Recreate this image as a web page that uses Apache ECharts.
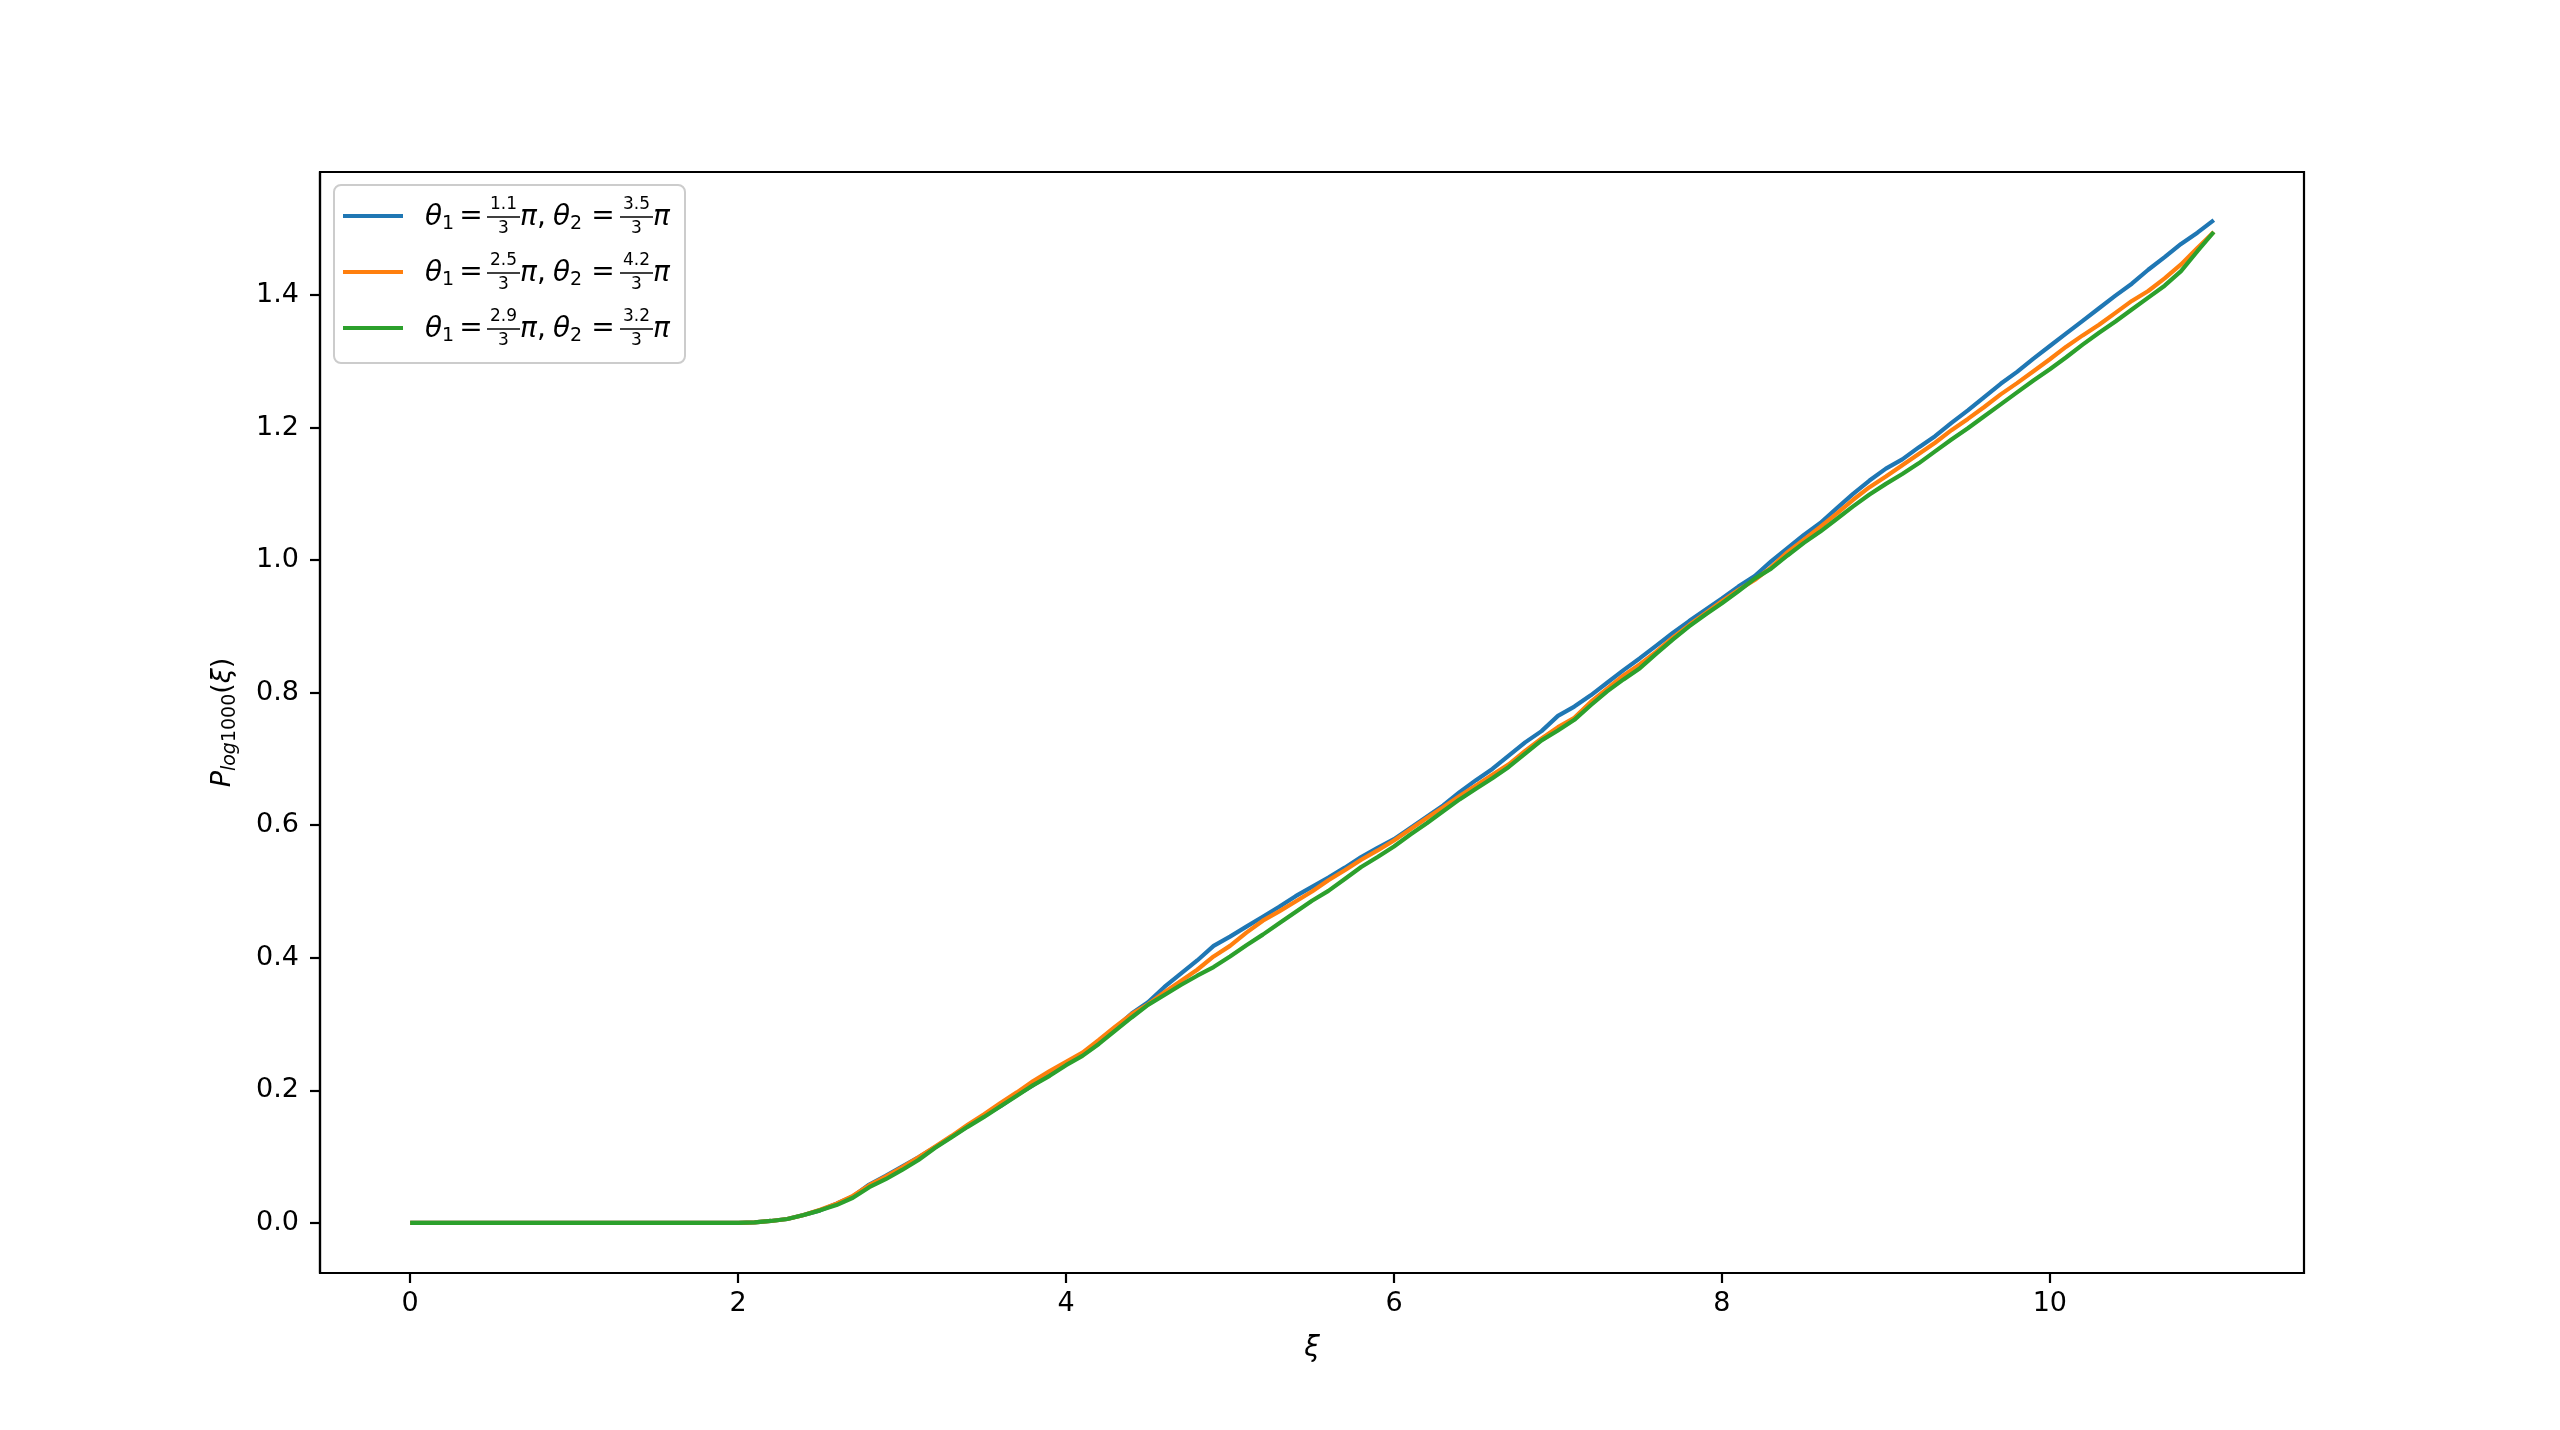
<!DOCTYPE html>
<html>
<head>
<meta charset="utf-8">
<script src="https://cdn.jsdelivr.net/npm/echarts@6/dist/echarts.min.js"></script>
<style>
html, body { margin: 0; padding: 0; background: #fff; }
#chart { width: 2560px; height: 1430px; }
</style>
</head>
<body>
<div id="chart"></div>
<script>
var xs = [
  0.0, 0.1, 0.2, 0.3, 0.4, 0.5, 0.6, 0.7, 0.8, 0.9,
  1.0, 1.1, 1.2, 1.3, 1.4, 1.5, 1.6, 1.7, 1.8, 1.9,
  2.0, 2.1, 2.2, 2.3, 2.4, 2.5, 2.6, 2.7, 2.8, 2.9,
  3.0, 3.1, 3.2, 3.3, 3.4, 3.5, 3.6, 3.7, 3.8, 3.9,
  4.0, 4.1, 4.2, 4.3, 4.4, 4.5, 4.6, 4.7, 4.8, 4.9,
  5.0, 5.1, 5.2, 5.3, 5.4, 5.5, 5.6, 5.7, 5.8, 5.9,
  6.0, 6.1, 6.2, 6.3, 6.4, 6.5, 6.6, 6.7, 6.8, 6.9,
  7.0, 7.1, 7.2, 7.3, 7.4, 7.5, 7.6, 7.7, 7.8, 7.9,
  8.0, 8.1, 8.2, 8.3, 8.4, 8.5, 8.6, 8.7, 8.8, 8.9,
  9.0, 9.1, 9.2, 9.3, 9.4, 9.5, 9.6, 9.7, 9.8, 9.9,
  10.0, 10.1, 10.2, 10.3, 10.4, 10.5, 10.6, 10.7, 10.8, 10.9,
  11.0
];

var blue = [
  0, 0, 0, 0, 0, 0, 0, 0, 0, 0,
  0, 0, 0, 0, 0, 0, 0, 0, 0, 0,
  0, 0.001, 0.003, 0.006, 0.012, 0.019, 0.029, 0.040, 0.058, 0.071,
  0.085, 0.099, 0.114, 0.130, 0.146, 0.162, 0.176, 0.193, 0.208, 0.224,
  0.239, 0.254, 0.273, 0.294, 0.316, 0.333, 0.356, 0.376, 0.396, 0.418,
  0.432, 0.447, 0.462, 0.477, 0.493, 0.507, 0.521, 0.536, 0.552, 0.566,
  0.579, 0.596, 0.613, 0.630, 0.650, 0.668, 0.685, 0.705, 0.725, 0.742,
  0.765, 0.779, 0.796, 0.815, 0.834, 0.852, 0.871, 0.890, 0.908, 0.925,
  0.942, 0.960, 0.976, 0.998, 1.018, 1.038, 1.056, 1.078, 1.100, 1.120,
  1.138, 1.152, 1.170, 1.187, 1.207, 1.226, 1.246, 1.266, 1.284, 1.304,
  1.323, 1.342, 1.361, 1.380, 1.399, 1.417, 1.438, 1.457, 1.477, 1.494,
  1.513
];

var orange = [
  0, 0, 0, 0, 0, 0, 0, 0, 0, 0,
  0, 0, 0, 0, 0, 0, 0, 0, 0, 0,
  0, 0.001, 0.003, 0.006, 0.012, 0.020, 0.029, 0.041, 0.057, 0.070,
  0.084, 0.099, 0.115, 0.131, 0.148, 0.164, 0.181, 0.197, 0.214, 0.229,
  0.243, 0.257, 0.276, 0.296, 0.315, 0.330, 0.348, 0.365, 0.382, 0.402,
  0.418, 0.438, 0.456, 0.470, 0.485, 0.500, 0.517, 0.532, 0.548, 0.562,
  0.577, 0.594, 0.611, 0.627, 0.644, 0.660, 0.676, 0.692, 0.712, 0.731,
  0.748, 0.762, 0.786, 0.806, 0.826, 0.843, 0.862, 0.883, 0.902, 0.920,
  0.938, 0.955, 0.970, 0.989, 1.012, 1.031, 1.050, 1.070, 1.091, 1.110,
  1.126, 1.143, 1.160, 1.177, 1.196, 1.213, 1.231, 1.250, 1.267, 1.285,
  1.303, 1.322, 1.339, 1.355, 1.373, 1.391, 1.406, 1.425, 1.446, 1.471,
  1.495
];

var green = [
  0, 0, 0, 0, 0, 0, 0, 0, 0, 0,
  0, 0, 0, 0, 0, 0, 0, 0, 0, 0,
  0, 0.001, 0.003, 0.006, 0.012, 0.019, 0.027, 0.038, 0.054, 0.066,
  0.080, 0.095, 0.113, 0.129, 0.145, 0.160, 0.176, 0.192, 0.208, 0.222,
  0.238, 0.252, 0.270, 0.290, 0.310, 0.329, 0.344, 0.359, 0.373, 0.386,
  0.402, 0.419, 0.435, 0.452, 0.469, 0.486, 0.501, 0.519, 0.537, 0.552,
  0.568, 0.586, 0.603, 0.621, 0.639, 0.655, 0.671, 0.688, 0.708, 0.728,
  0.743, 0.759, 0.781, 0.802, 0.820, 0.837, 0.859, 0.880, 0.900, 0.918,
  0.935, 0.953, 0.972, 0.987, 1.007, 1.026, 1.043, 1.062, 1.081, 1.099,
  1.115, 1.130, 1.146, 1.164, 1.182, 1.199, 1.217, 1.235, 1.253, 1.271,
  1.288, 1.306, 1.325, 1.343, 1.360, 1.378, 1.396, 1.414, 1.436, 1.466,
  1.495
];

var xTicks = [0, 2, 4, 6, 8, 10];
var yTicks = [0, 0.2, 0.4, 0.6, 0.8, 1.0, 1.2, 1.4];
var colors = ['#1f77b4', '#ff7f0e', '#2ca02c'];
var theta1Num = ['1.1', '2.5', '2.9'];
var theta2Num = ['3.5', '4.2', '3.2'];
var fracDen = '3';

var FONT = 'DejaVu Sans';
var X_MIN = -0.55, X_MAX = 11.55, Y_MIN = -0.0755, Y_MAX = 1.5855;
var TICK_LEN = 10;

function pair(ys) {
    return xs.map(function (x, i) { return [x, ys[i]]; });
}

// hand-built legend (matplotlib style, with stacked fractions)
function legendGraphic() {
    var els = [{
        type: 'rect',
        shape: { x: 334, y: 185, width: 351, height: 178, r: 7 },
        style: { fill: 'rgba(255,255,255,0.8)', stroke: '#cccccc', lineWidth: 2 },
        z: 100
    }];
    function txt(x, y, s, size, italic, align) {
        els.push({
            type: 'text', x: x, y: y, z: 101,
            style: {
                text: s,
                font: (italic ? 'italic ' : '') + size + 'px "' + FONT + '"',
                fill: '#000',
                align: align || 'left', textAlign: align || 'left',
                verticalAlign: 'middle', textVerticalAlign: 'middle'
            }
        });
    }
    function frac(cx, cy, num) {
        txt(cx, cy - 11, num, 17, false, 'center');
        txt(cx, cy + 13, fracDen, 17, false, 'center');
        els.push({
            type: 'line', z: 101,
            shape: { x1: cx - 16.5, y1: cy + 1, x2: cx + 16.5, y2: cy + 1 },
            style: { stroke: '#000', lineWidth: 1.4 }
        });
    }
    for (var i = 0; i < 3; i++) {
        var cy = 216 + 56 * i;
        els.push({
            type: 'line', z: 101,
            shape: { x1: 343, y1: cy, x2: 403, y2: cy },
            style: { stroke: colors[i], lineWidth: 4.2 }
        });
        txt(425, cy + 2, 'θ', 28, true);
        txt(442, cy + 8, '1', 19, false);
        txt(471, cy + 1, '=', 28, false, 'center');
        frac(503.5, cy, theta1Num[i]);
        txt(520, cy + 2, 'π', 28, true);
        txt(537, cy + 2, ',', 28, false);
        txt(553, cy + 2, 'θ', 28, true);
        txt(570, cy + 8, '2', 19, false);
        txt(603, cy + 1, '=', 28, false, 'center');
        frac(636.5, cy, theta2Num[i]);
        txt(653, cy + 2, 'π', 28, true);
    }
    return els;
}

var myChart = echarts.init(document.getElementById('chart'));

myChart.setOption({
    animation: false,
    grid: {
        left: 320, right: 256, top: 172, bottom: 157,
        show: true, borderColor: '#000', borderWidth: 2.2
    },
    xAxis: {
        type: 'value',
        min: X_MIN, max: X_MAX,
        name: 'ξ',
        nameLocation: 'middle',
        nameGap: 62,
        nameTextStyle: { fontFamily: FONT, fontStyle: 'italic', fontSize: 28, color: '#000' },
        axisLine: { show: true, onZero: false, lineStyle: { color: '#000', width: 2.2 } },
        axisTick: { show: true, length: TICK_LEN, lineStyle: { color: '#000', width: 2.2 }, customValues: xTicks },
        axisLabel: { fontFamily: FONT, fontSize: 27, color: '#000', margin: 17, customValues: xTicks,
            formatter: function (v) { return String(v); } },
        splitLine: { show: false }
    },
    yAxis: {
        type: 'value',
        min: Y_MIN, max: Y_MAX,
        name: '{p|P}{s|log}{n|1000}{b|(}{p|ξ}{b|)}',
        nameLocation: 'middle',
        nameGap: 80,
        nameRotate: 90,
        nameTextStyle: {
            color: '#000',
            rich: {
                p: { fontFamily: FONT, fontStyle: 'italic', fontSize: 27, lineHeight: 34, color: '#000' },
                b: { fontFamily: FONT, fontSize: 27, lineHeight: 34, color: '#000' },
                s: { fontFamily: FONT, fontStyle: 'italic', fontSize: 19, lineHeight: 18, verticalAlign: 'bottom', color: '#000' },
                n: { fontFamily: FONT, fontSize: 19, lineHeight: 18, verticalAlign: 'bottom', color: '#000' }
            }
        },
        axisLine: { show: true, onZero: false, lineStyle: { color: '#000', width: 2.2 } },
        axisTick: { show: true, length: TICK_LEN, lineStyle: { color: '#000', width: 2.2 }, customValues: yTicks },
        axisLabel: { fontFamily: FONT, fontSize: 27, color: '#000', margin: 21, customValues: yTicks,
            formatter: function (v) { return v.toFixed(1); } },
        splitLine: { show: false }
    },
    series: [
        { name: 'blue', type: 'line', data: pair(blue), showSymbol: false, silent: true,
          lineStyle: { color: colors[0], width: 4.2 }, itemStyle: { color: colors[0] } },
        { name: 'orange', type: 'line', data: pair(orange), showSymbol: false, silent: true,
          lineStyle: { color: colors[1], width: 4.2 }, itemStyle: { color: colors[1] } },
        { name: 'green', type: 'line', data: pair(green), showSymbol: false, silent: true,
          lineStyle: { color: colors[2], width: 4.2 }, itemStyle: { color: colors[2] } }
    ],
    graphic: legendGraphic()
});
</script>
</body>
</html>
